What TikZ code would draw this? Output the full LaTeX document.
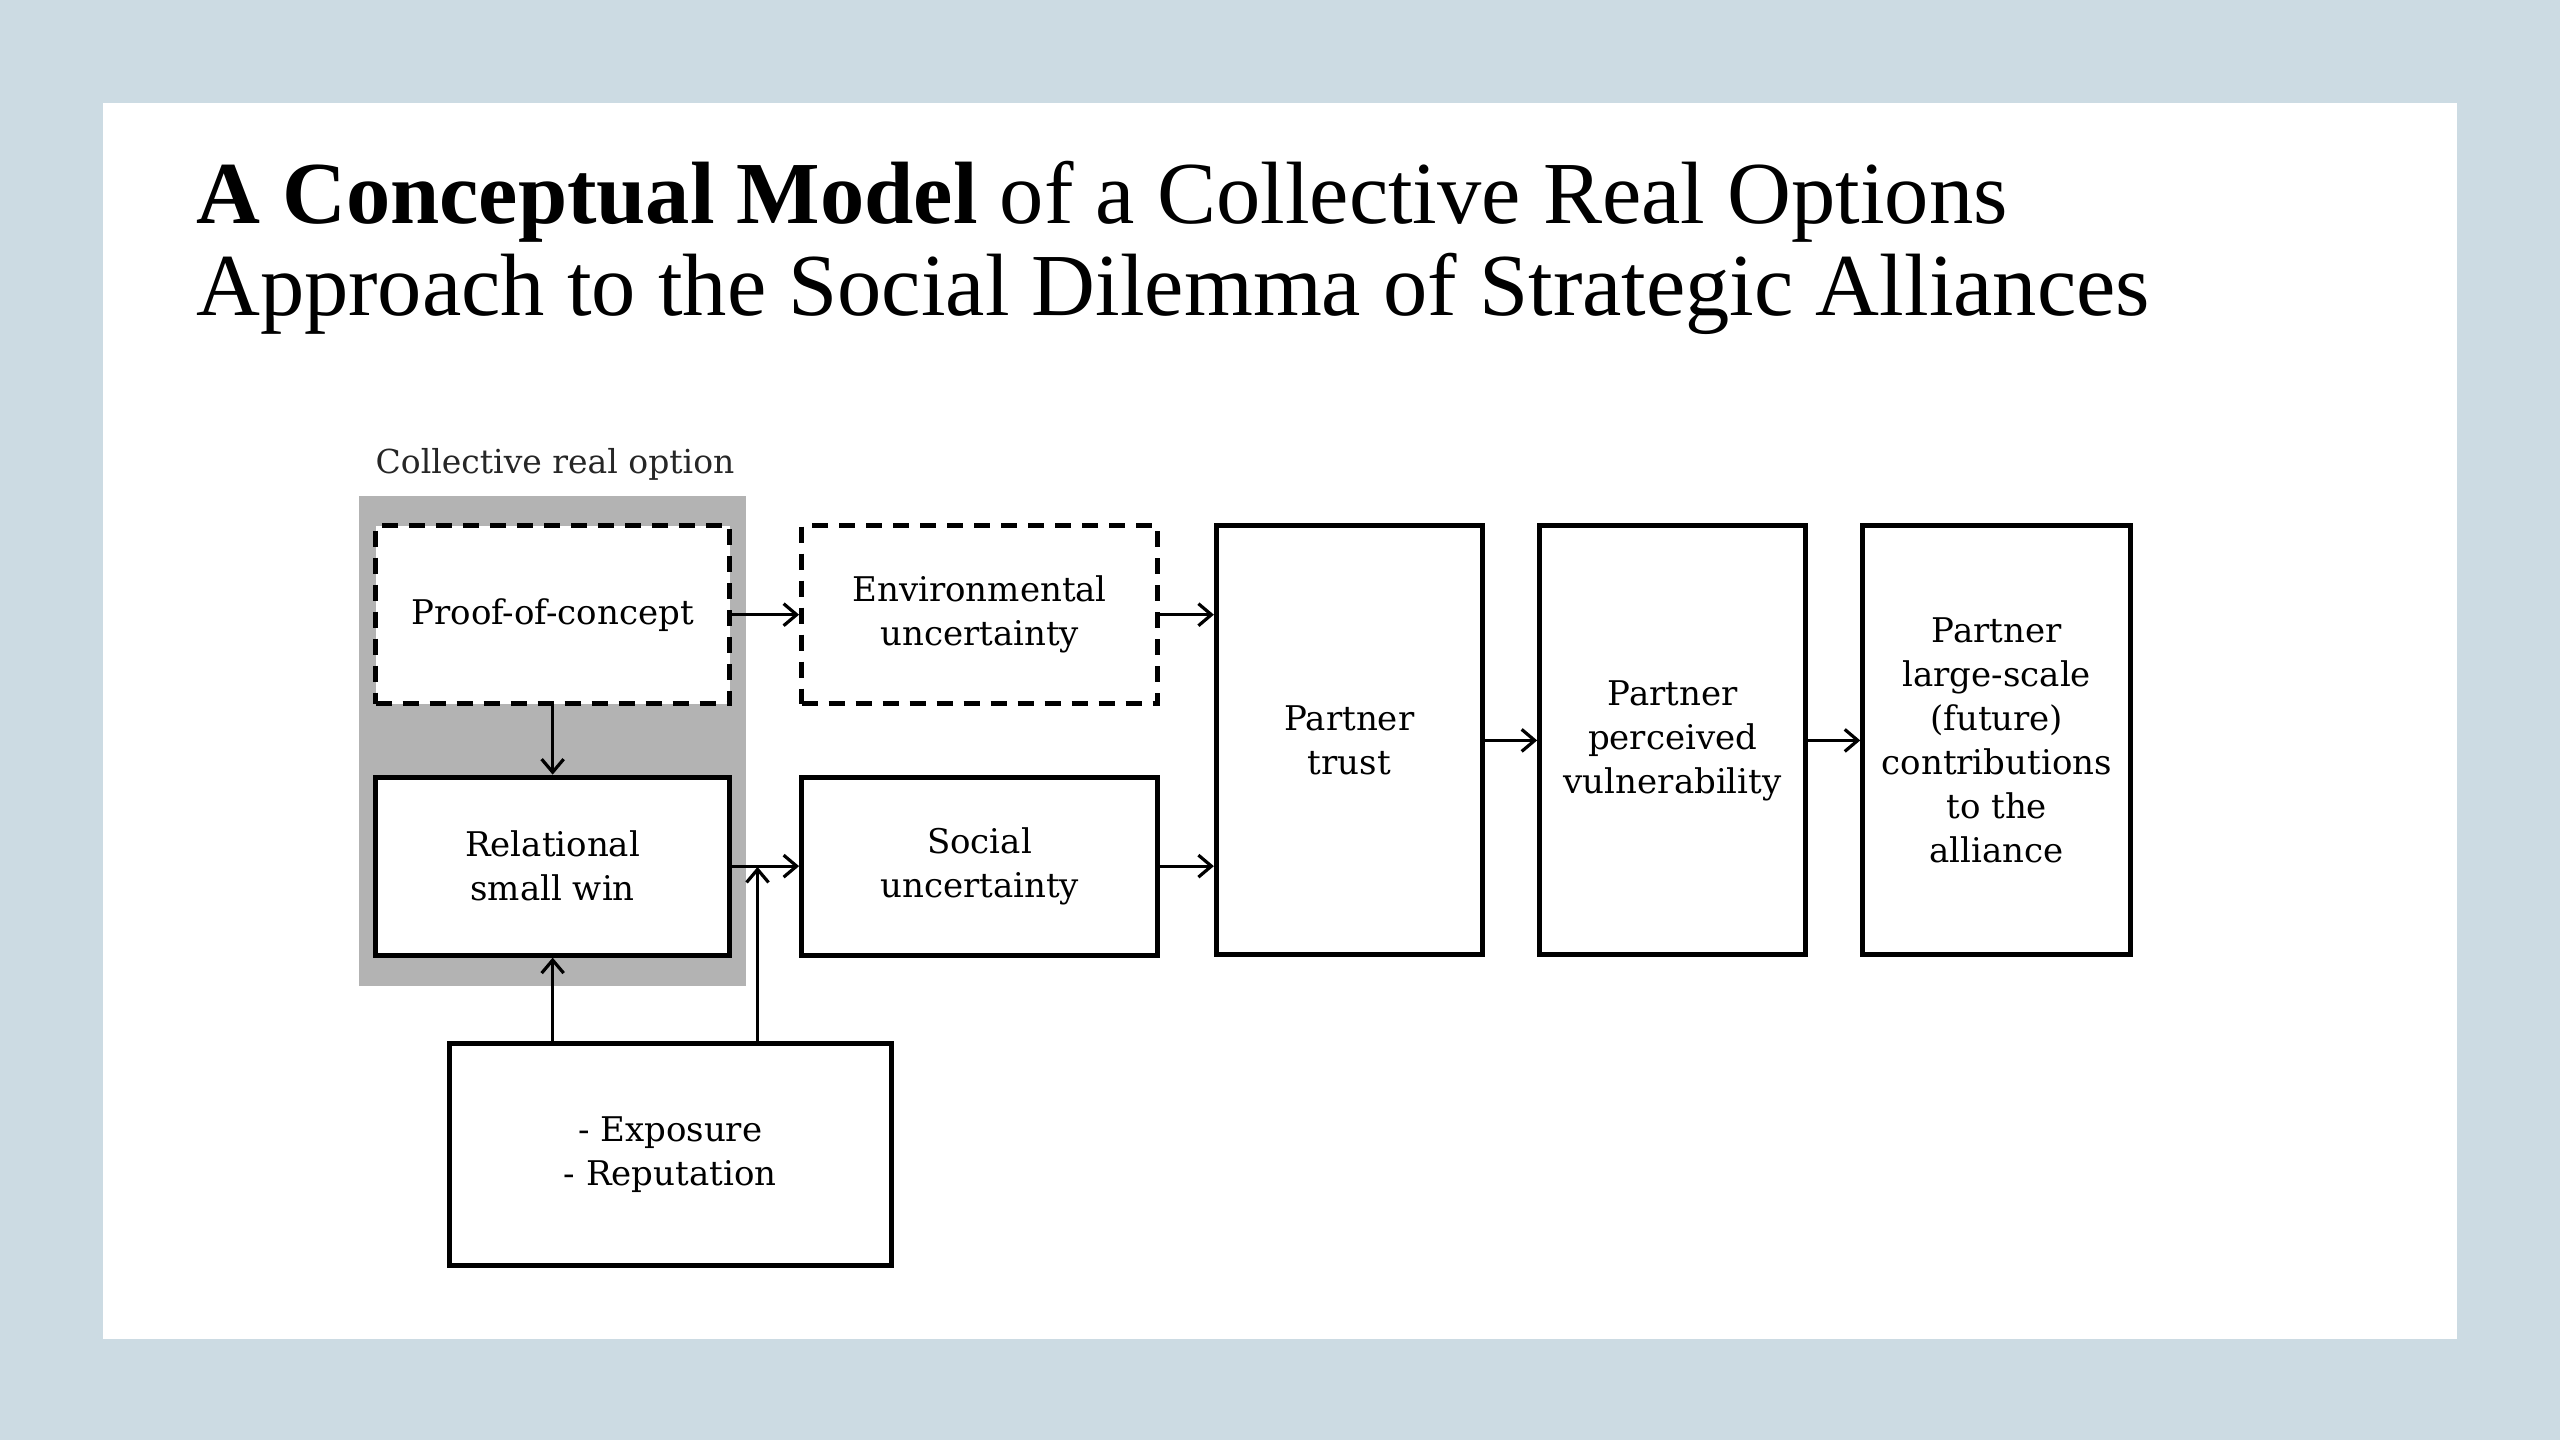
\documentclass[tikz,border=0pt]{standalone}
\usepackage{fontspec}
\setmainfont{Liberation Serif}
\newfontfamily\dfont{DejaVu Serif}
\usetikzlibrary{arrows.meta}
\definecolor{bgblue}{HTML}{CCDBE3}
\definecolor{optgray}{HTML}{B3B3B3}
\begin{document}
\begin{tikzpicture}[x=1.63265pt,y=-1.63265pt,
  box/.style={draw=black, line width=5pt, fill=white, inner sep=0pt, align=center,
    font=\dfont\fontsize{34}{44}\selectfont},
  dbox/.style={box, dash pattern=on 16pt off 11pt},
  conn/.style={line width=3.2pt, -{Straight Barb[length=13pt,width=22pt,line width=3.2pt]}},
  titlefont/.style={font=\fontsize{88.5}{91}\selectfont}]
\useasboundingbox (0,0) rectangle (1568,882);
\fill[bgblue] (0,0) rectangle (1568,882);
\fill[white] (63,63) rectangle (1505,820);
% title
\node[anchor=base west, inner sep=0pt, titlefont] (t1) at (120,137) {\textbf{A Conceptual Model} of a Collective Real Options};
\node[anchor=base west, inner sep=0pt, titlefont] (t2) at (120,193) {Approach to the Social Dilemma of Strategic Alliances};
% collective real option area
\fill[optgray] (220,304) rectangle (457,604);
\node[anchor=base west, inner sep=0pt, text=black!85, font=\dfont\fontsize{33}{40}\selectfont] (cro) at (230,290) {Collective real option};
% boxes
\node[dbox, minimum width=354pt, minimum height=178pt] (proof) at (338.5,376.5) {Proof-of-concept};
\node[dbox, minimum width=356pt, minimum height=178pt] (env) at (600,376.5) {Environmental\\uncertainty};
\node[box, minimum width=354pt, minimum height=178pt] (rel) at (338.5,530.5) {Relational\\small win};
\node[box, minimum width=356pt, minimum height=178pt] (soc) at (600,530.5) {Social\\uncertainty};
\node[box, minimum width=266pt, minimum height=429pt] (trust) at (826.5,453.5) {Partner\\trust};
\node[box, minimum width=266pt, minimum height=429pt] (vuln) at (1024.5,453.5) {Partner\\perceived\\vulnerability};
\node[box, minimum width=268pt, minimum height=429pt] (contrib) at (1223,453.5) {Partner\\large-scale\\(future)\\contributions\\to the\\alliance};
\node[box, minimum width=442pt, minimum height=222pt] (expo) at (410.5,707) {- Exposure\\- Reputation};
% connectors
\draw[conn] (proof.east) -- (env.west);
\draw[conn] (env.east) -- (trust.west |- env.east);
\draw[conn] (proof.south) -- (rel.north);
\draw[conn] (rel.east) -- (soc.west);
\draw[conn] (soc.east) -- (trust.west |- soc.east);
\draw[conn] (trust.east) -- (vuln.west);
\draw[conn] (vuln.east) -- (contrib.west);
\draw[conn] (expo.north -| rel.south) -- (rel.south);
\coordinate (j) at (464,531);
\draw[conn] (expo.north -| j) -- (j);
\end{tikzpicture}
\end{document}
